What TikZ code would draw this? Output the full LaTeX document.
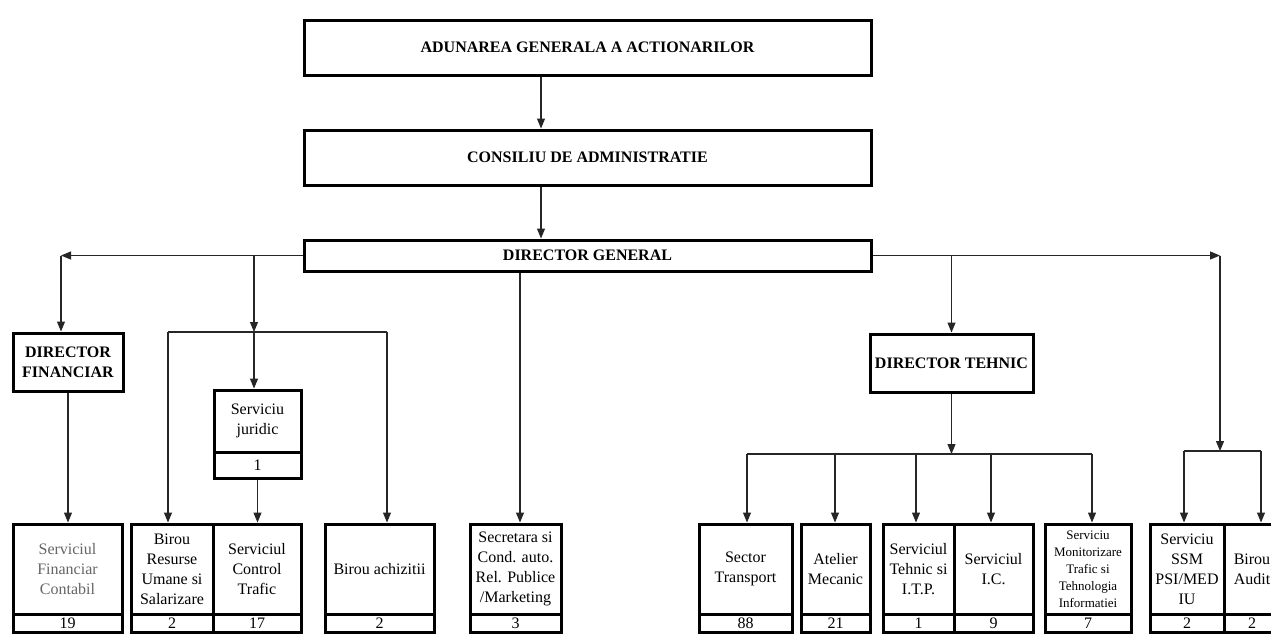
\documentclass[tikz,border=0pt]{standalone}
\usepackage{fontspec}
\setmainfont{Liberation Serif}
\usetikzlibrary{arrows.meta,calc}
\tikzset{
  bx/.style={draw, line width=3pt, inner sep=0pt, align=center, font=\fontsize{16}{20}\selectfont},
  hd/.style={bx, font=\fontsize{16}{20}\selectfont\bfseries},
  sm/.style={bx, font=\fontsize{13}{17}\selectfont},
  gr/.style={bx, text=black!60},
  cn/.style={line width=1.1pt, draw=black!85},
  arr/.style={cn, -{Triangle[length=10pt,width=8pt]}},
}
\newcommand\mkbox[7]{\node[#1, minimum width={(#5-#3)*1pt}, minimum height={(#6-#4)*1pt}] (#2) at ({(#3+#5)/2},{(#4+#6)/2}) {#7};}
\begin{document}
\begin{tikzpicture}[x=1pt,y=-1pt]
\useasboundingbox (0,0) rectangle (1271,633);
\clip (0,0) rectangle (1271,633);
\fill[white] (0,0) rectangle (1271,633);
% top boxes
\mkbox{hd}{ag}{304}{20}{871}{75}{ADUNAREA GENERALA A ACTIONARILOR}
\mkbox{hd}{ca}{304}{130}{871}{185}{CONSILIU DE ADMINISTRATIE}
\mkbox{hd}{dg}{304}{240}{871}{271}{DIRECTOR GENERAL}
% directors
\mkbox{hd}{df}{13}{333}{123}{391}{DIRECTOR\\FINANCIAR}
\mkbox{hd}{dt}{870}{334}{1033}{392}{DIRECTOR TEHNIC}
% serviciu juridic
\mkbox{bx}{sj}{214}{390}{301}{452}{Serviciu\\juridic}
\mkbox{bx}{sjn}{214}{452}{301}{478}{1}
% bottom row
\mkbox{gr}{sfc}{13}{524}{122}{614}{Serviciul\\Financiar\\Contabil}
\mkbox{bx}{sfcn}{13}{614}{122}{632}{19}
\mkbox{bx}{brus}{131}{524}{213}{614}{Birou\\Resurse\\Umane si\\Salarizare}
\mkbox{bx}{brusn}{131}{614}{213}{632}{2}
\mkbox{bx}{sct}{213}{524}{301}{614}{Serviciul\\Control\\Trafic}
\mkbox{bx}{sctn}{213}{614}{301}{632}{17}
\mkbox{bx}{ba}{325}{524}{434}{614}{Birou achizitii}
\mkbox{bx}{ban}{325}{614}{434}{632}{2}
\mkbox{bx}{sec}{470}{524}{561}{614}{Secretara si\\Cond. auto.\\Rel. Publice\\/Marketing}
\mkbox{bx}{secn}{470}{614}{561}{632}{3}
\mkbox{bx}{st}{699}{524}{792}{614}{Sector\\Transport}
\mkbox{bx}{stn}{699}{614}{792}{632}{88}
\mkbox{bx}{am}{801}{524}{870}{614}{Atelier\\Mecanic}
\mkbox{bx}{amn}{801}{614}{870}{632}{21}
\mkbox{bx}{stitp}{883}{524}{954}{614}{Serviciul\\Tehnic si\\I.T.P.}
\mkbox{bx}{stitpn}{883}{614}{954}{632}{1}
\mkbox{bx}{sic}{954}{524}{1033}{614}{Serviciul\\I.C.}
\mkbox{bx}{sicn}{954}{614}{1033}{632}{9}
\mkbox{sm}{smt}{1045}{524}{1131}{614}{Serviciu\\Monitorizare\\Trafic si\\Tehnologia\\Informatiei}
\mkbox{bx}{smtn}{1045}{614}{1131}{632}{7}
\mkbox{bx}{ssm}{1150}{524}{1224}{614}{Serviciu\\SSM\\PSI/MED\\IU}
\mkbox{bx}{ssmn}{1150}{614}{1224}{632}{2}
\mkbox{bx}{aud}{1224}{524}{1280}{614}{Birou\\Audit}
\mkbox{bx}{audn}{1224}{614}{1280}{632}{2}
% top connectors
\coordinate (x1) at (541,0);
\draw[arr] (ag.south -| x1) -- (ca.north -| x1);
\draw[arr] (ca.south -| x1) -- (dg.north -| x1);
% left side
\coordinate (xl) at (61,0);
\draw[arr] (dg.west) -- (dg.west -| xl);
\draw[arr] (dg.west -| xl) -- (xl |- df.north);
\draw[arr] (df.south) -- (df.south |- sfc.north);
% middle-left group
\coordinate (xm) at (254,0);
\coordinate (bl) at (168,332);
\coordinate (br) at (387,332);
\draw[arr] (dg.west -| xm) -- (xm |- bl);
\draw[cn] (bl) -- (br);
\draw[arr] (xm |- bl) -- (xm |- sj.north);
\draw[arr] (bl) -- (bl |- brus.north);
\draw[arr] (br) -- (br |- ba.north);
\draw[arr] (sjn.south) -- (sjn.south |- sct.north);
% secretara
\coordinate (xs) at (520,0);
\draw[arr] (dg.south -| xs) -- (xs |- sec.north);
% right side
\coordinate (xr) at (1220,0);
\coordinate (sl) at (1184,451);
\coordinate (sr) at (1261,451);
\draw[arr] (dg.east) -- (dg.east -| xr);
\draw[arr] (dg.east -| xr) -- (xr |- sl);
\draw[cn] (sl) -- (sr);
\draw[arr] (sl) -- (sl |- ssm.north);
\draw[arr] (sr) -- (sr |- aud.north);
% director tehnic
\coordinate (tl) at (747,454);
\coordinate (tr) at (1092,454);
\coordinate (t2) at (835,454);
\coordinate (t3) at (916,454);
\coordinate (t4) at (991,454);
\draw[arr] (dg.east -| dt.north) -- (dt.north);
\draw[arr] (dt.south) -- (dt.south |- tl);
\draw[cn] (tl) -- (tr);
\draw[arr] (tl) -- (tl |- st.north);
\draw[arr] (t2) -- (t2 |- am.north);
\draw[arr] (t3) -- (t3 |- stitp.north);
\draw[arr] (t4) -- (t4 |- sic.north);
\draw[arr] (tr) -- (tr |- smt.north);
\end{tikzpicture}
\end{document}
